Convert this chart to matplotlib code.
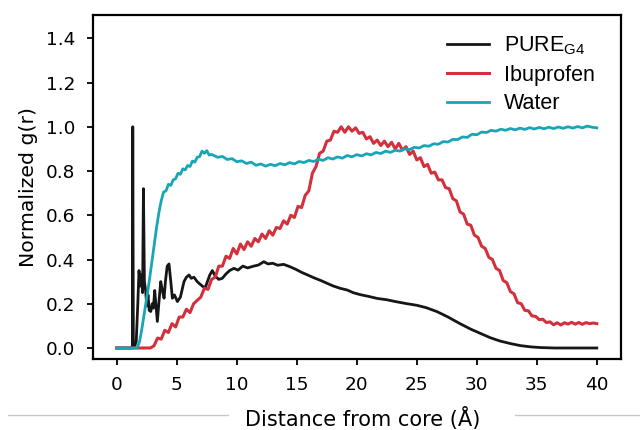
import numpy as np
import matplotlib
matplotlib.use("Agg")
import matplotlib.pyplot as plt
from matplotlib.lines import Line2D

plt.rcParams["mathtext.fontset"] = "custom"
plt.rcParams["mathtext.rm"] = "Liberation Sans"

# ── データ ───────────────────────────────────
# PURE_G4 : 不規則な間隔
pure_r = [0.0, 1.22, 1.3, 1.33, 1.38, 1.5, 1.62, 1.75, 1.85, 1.95,
          2.05, 2.15, 2.22, 2.3, 2.4, 2.5, 2.6, 2.7, 2.83, 2.95,
          3.05, 3.16, 3.25, 3.38, 3.5, 3.66, 3.8, 3.94, 4.05, 4.2,
          4.35, 4.5, 4.63, 4.8, 5.05, 5.3, 5.6, 5.8, 6.02, 6.2,
          6.43, 6.7, 6.9, 7.13, 7.35, 7.55, 7.75, 7.96, 8.2, 8.5,
          8.79, 9.1, 9.4, 9.76, 10.1, 10.5, 10.9, 11.4, 11.8, 12.25,
          12.6, 13.0, 13.4, 13.9, 14.4, 14.9, 15.4, 15.9, 16.4, 17.0,
          17.5, 18.0, 18.6, 19.2, 19.7, 20.3, 21.0, 21.7, 22.5, 23.3,
          24.2, 25.0, 25.8, 26.7, 27.6, 28.6, 29.5, 30.3, 31.1, 31.9,
          32.8, 33.6, 34.5, 35.3, 36.5, 38.0, 40.0]
pure_g = [0.0, 0.0, 0.01, 1.0, 0.02, 0.01, 0.03, 0.2, 0.35, 0.28,
          0.33, 0.25, 0.72, 0.3, 0.26, 0.19, 0.24, 0.17, 0.165, 0.2,
          0.18, 0.26, 0.2, 0.12, 0.2, 0.3, 0.26, 0.225, 0.3, 0.37,
          0.38, 0.3, 0.225, 0.24, 0.21, 0.23, 0.3, 0.32, 0.33, 0.315,
          0.32, 0.3, 0.29, 0.28, 0.27, 0.3, 0.33, 0.35, 0.325, 0.31,
          0.315, 0.335, 0.35, 0.36, 0.352, 0.37, 0.362, 0.37, 0.375, 0.39,
          0.38, 0.383, 0.374, 0.378, 0.368, 0.356, 0.342, 0.33, 0.318, 0.305,
          0.293, 0.281, 0.27, 0.262, 0.25, 0.241, 0.233, 0.224, 0.218, 0.209,
          0.2, 0.193, 0.182, 0.164, 0.14, 0.11, 0.085, 0.066, 0.047, 0.032,
          0.02, 0.011, 0.005, 0.002, 0.0, 0.0, 0.0]

# Ibuprofen : 0, 1.7 のあと 2.8〜40.0 を 0.3 刻み
ibu_r = [0.0, 1.7] + list(np.round(np.arange(2.8, 40.01, 0.3), 2))
ibu_g = [0.0, 0.0,
         0.0, 0.01, 0.045, 0.04, 0.08, 0.07, 0.11, 0.095, 0.14, 0.14,        # 2.8-
         0.175, 0.16, 0.2, 0.215, 0.23, 0.27, 0.265, 0.31, 0.32, 0.37,       # 5.8-
         0.37, 0.415, 0.405, 0.45, 0.425, 0.47, 0.445, 0.48, 0.46, 0.495,    # 8.8-
         0.48, 0.515, 0.495, 0.53, 0.51, 0.545, 0.54, 0.575, 0.56, 0.6,      # 11.8-
         0.59, 0.64, 0.635, 0.69, 0.71, 0.79, 0.82, 0.88, 0.89, 0.935,       # 14.8-
         0.94, 0.98, 0.975, 1.0, 0.975, 1.0, 0.98, 0.995, 0.97, 0.975,       # 17.8-
         0.945, 0.955, 0.925, 0.94, 0.915, 0.935, 0.91, 0.93, 0.9, 0.925,    # 20.8-
         0.895, 0.91, 0.875, 0.89, 0.85, 0.86, 0.82, 0.83, 0.79, 0.795,      # 23.8-
         0.76, 0.76, 0.725, 0.72, 0.675, 0.665, 0.615, 0.605, 0.56, 0.555,   # 26.8-
         0.51, 0.5, 0.46, 0.45, 0.41, 0.4, 0.36, 0.35, 0.305, 0.295,         # 29.8-
         0.255, 0.245, 0.205, 0.2, 0.17, 0.168, 0.145, 0.143, 0.128, 0.13,   # 32.8-
         0.115, 0.118, 0.105, 0.114, 0.104, 0.114, 0.108, 0.116, 0.108, 0.115,  # 35.8-
         0.107, 0.115, 0.11, 0.113, 0.11]                                    # 38.8-

# Water : 0, 1.7〜7.9 を 0.2 刻み, 8.4〜40.0 を 0.4 刻み
water_r = ([0.0] + list(np.round(np.arange(1.7, 7.91, 0.2), 2))
           + list(np.round(np.arange(8.4, 40.01, 0.4), 2)))
water_g = [0.0,
           0.0, 0.03, 0.09, 0.16, 0.23, 0.3, 0.38, 0.46, 0.54, 0.61,        # 1.7-
           0.665, 0.705, 0.71, 0.74, 0.735, 0.76, 0.765, 0.79, 0.785, 0.81,  # 3.7-
           0.805, 0.825, 0.82, 0.845, 0.84, 0.862, 0.865, 0.89, 0.88, 0.892, # 5.7-
           0.872, 0.875,                                                     # 7.7-
           0.862, 0.866, 0.852, 0.856, 0.842, 0.846, 0.834, 0.84, 0.826, 0.832,  # 8.4-
           0.822, 0.83, 0.824, 0.834, 0.828, 0.838, 0.832, 0.843, 0.838, 0.848,  # 12.4-
           0.843, 0.853, 0.848, 0.86, 0.854, 0.864, 0.858, 0.87, 0.864, 0.874,   # 16.4-
           0.868, 0.878, 0.873, 0.884, 0.879, 0.89, 0.884, 0.894, 0.89, 0.9,     # 20.4-
           0.897, 0.907, 0.904, 0.915, 0.912, 0.923, 0.921, 0.933, 0.931, 0.943, # 24.4-
           0.942, 0.954, 0.952, 0.966, 0.964, 0.976, 0.974, 0.984, 0.98, 0.989,  # 28.4-
           0.984, 0.992, 0.986, 0.994, 0.988, 0.996, 0.99, 0.997, 0.991, 0.998,  # 32.4-
           0.992, 0.999, 0.993, 1.0, 0.994, 1.001, 0.995, 1.003, 0.998, 0.995]   # 36.4-

x_ticks = [0, 5, 10, 15, 20, 25, 30, 35, 40]
y_ticks = [0.0, 0.2, 0.4, 0.6, 0.8, 1.0, 1.2, 1.4]

# ── 描画 ───────────────────────────────────────────
fig = plt.figure(figsize=(6.4, 4.3), dpi=100)
ax = fig.add_axes([0.145, 0.165, 0.825, 0.8])

ax.plot(pure_r, pure_g, color="#161616", lw=2.0, label=r"PURE$_{\rm G4}$")
ax.plot(ibu_r, ibu_g, color="#d3303d", lw=2.2, label="Ibuprofen")
ax.plot(water_r, water_g, color="#17a6b6", lw=2.0, label="Water")

ax.set_xlim(-2, 42)
ax.set_ylim(-0.05, 1.505)
ax.set_xticks(x_ticks)
ax.set_yticks(y_ticks)
ax.set_yticklabels([f"{v:.1f}" for v in y_ticks])
ax.tick_params(direction="out", length=4.5, width=1.3, labelsize=13.3,
               top=False, right=False, pad=8)
for s in ax.spines.values():
    s.set_linewidth(1.6)

ax.set_xlabel("Distance from core (Å)", fontsize=15, labelpad=9)
ax.xaxis.label.set_x(0.512)
ax.set_ylabel("Normalized g(r)", fontsize=14.7, labelpad=6)

leg = ax.legend(loc="upper right", bbox_to_anchor=(0.988, 1.0), frameon=False,
                prop={"family": "Liberation Sans", "size": 15.5},
                handlelength=1.95, handletextpad=0.7, labelspacing=0.35,
                borderaxespad=0.5)

# 元画像の下にある灰色の区切り線
fig.add_artist(Line2D([0.0125, 0.356], [0.034, 0.034], color="#c8c8c8", lw=1))
fig.add_artist(Line2D([0.805, 1.0], [0.034, 0.034], color="#c8c8c8", lw=1))

fig.savefig("out.png", dpi=100)
